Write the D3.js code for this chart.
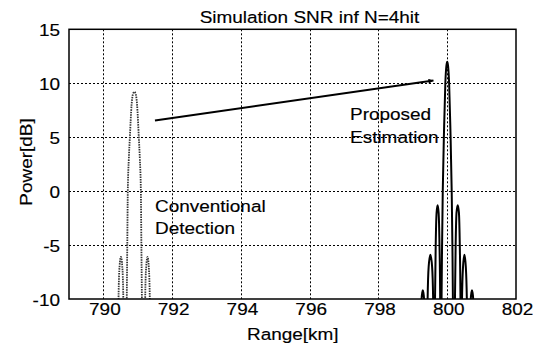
<!DOCTYPE html>
<html>
<head>
<meta charset="utf-8">
<script src="https://cdn.jsdelivr.net/npm/d3@7"></script>
<style>
  body { margin: 0; background: #fff; }
  svg text { font-family: Arial, "Liberation Sans", Helvetica, sans-serif; font-size: 16.5px; fill: #000; stroke: #000; stroke-width: 0.15px; }
</style>
</head>
<body>
<svg id="chart" width="539" height="346"></svg>
<script>
const xTicks = [790, 792, 794, 796, 798, 800, 802];
const yTicks = [-10, -5, 0, 5, 10, 15];

// Conventional Detection (dotted grey)
const convRange = [790.40, 790.44, 790.47, 790.51, 790.55, 790.58, 790.62,
  790.68, 790.695, 790.71, 790.74, 790.77, 790.82, 790.86, 790.90, 790.94, 790.98, 791.03, 791.06, 791.09, 791.105, 791.12, 791.16,
  791.215, 791.245, 791.285, 791.32, 791.35, 791.39];
const convPower = [-30, -10, -7, -6.1, -7, -10, -30,
  -10, -5, 0, 3, 5, 8, 9, 9.2, 9, 8, 5, 3, 0, -5, -10, -30,
  -10, -7, -6.1, -7, -10, -30];

// Proposed Estimation (solid black)
const propRange = [799.16, 799.255, 799.275, 799.29, 799.305, 799.325, 799.40,
  799.43, 799.46, 799.51, 799.56, 799.59, 799.61,
  799.645, 799.665, 799.69, 799.72, 799.75, 799.775, 799.795, 799.81,
  799.835, 799.85, 799.87, 799.91, 799.945, 799.975, 800.0, 800.025, 800.055, 800.09, 800.13, 800.15, 800.165, 800.19,
  800.225, 800.245, 800.27, 800.305, 800.34, 800.365, 800.385, 800.41,
  800.43, 800.46, 800.50, 800.54, 800.57, 800.61,
  800.685, 800.705, 800.72, 800.735, 800.755, 800.84];
const propPower = [-30, -10, -9.4, -9.2, -9.4, -10, -30,
  -10, -7, -5.9, -7, -10, -30,
  -10, -5, -2, -1.3, -2, -5, -10, -30,
  -10, -5, 0, 6, 10, 11.6, 12, 11.6, 10, 6, 0, -5, -10, -30,
  -10, -5, -2, -1.3, -2, -5, -10, -30,
  -10, -7, -5.9, -7, -10, -30,
  -10, -9.4, -9.2, -9.4, -10, -30];

const arrowRange = [791.5, 799.6];
const arrowPower = [6.55, 10.25];

const svg = d3.select('#chart');
const width = +svg.attr('width');
const height = +svg.attr('height');
const margin = { top: 29.3, right: 23, bottom: 47, left: 69 };
const x = d3.scaleLinear().domain([789, 802]).range([margin.left, width - margin.right]);
const y = d3.scaleLinear().domain([-10, 15]).range([height - margin.bottom, margin.top]);
const sx = 1.15; // the source font runs wider than Arial

function label(g, txt, tx, ty, anchor, rot) {
  return g.append('text')
    .attr('text-anchor', anchor || 'start')
    .attr('transform', 'translate(' + tx + ',' + ty + ')' + (rot ? ' rotate(' + rot + ')' : '') + ' scale(' + sx + ',1)')
    .text(txt);
}

svg.append('rect').attr('width', width).attr('height', height).attr('fill', '#fff');

svg.append('defs').append('clipPath').attr('id', 'plot')
  .append('rect')
  .attr('x', x(789)).attr('y', y(15))
  .attr('width', x(802) - x(789)).attr('height', y(-10) - y(15));

// grid
const grid = svg.append('g').attr('stroke', '#000').attr('stroke-width', 1).attr('stroke-dasharray', '2,2');
grid.selectAll('.vg').data(xTicks.filter(d => d < 802)).enter().append('line')
  .attr('x1', d => Math.round(x(d)) + 0.5).attr('x2', d => Math.round(x(d)) + 0.5)
  .attr('y1', y(15)).attr('y2', y(-10));
grid.selectAll('.hg').data(yTicks.filter(d => d > -10 && d < 15)).enter().append('line')
  .attr('y1', d => Math.round(y(d)) + 0.5).attr('y2', d => Math.round(y(d)) + 0.5)
  .attr('x1', x(789)).attr('x2', x(802));

const line = d3.line().x(d => x(d[0])).y(d => y(d[1])).curve(d3.curveMonotoneX);
const plot = svg.append('g').attr('clip-path', 'url(#plot)');

plot.append('path')
  .datum(d3.zip(convRange, convPower))
  .attr('d', line)
  .attr('fill', 'none')
  .attr('stroke', '#333')
  .attr('stroke-width', 1.8)
  .attr('stroke-dasharray', '1.5,1');

plot.append('path')
  .datum(d3.zip(propRange, propPower))
  .attr('d', line)
  .attr('fill', 'none')
  .attr('stroke', '#000')
  .attr('stroke-width', 2);

// arrow
svg.select('defs').append('marker')
  .attr('id', 'head')
  .attr('viewBox', '0 0 10 10')
  .attr('refX', 10).attr('refY', 5)
  .attr('markerWidth', 7).attr('markerHeight', 5)
  .attr('markerUnits', 'userSpaceOnUse')
  .attr('orient', 'auto')
  .append('path').attr('d', 'M0,0L10,5L0,10Z').attr('fill', '#000');

svg.append('line')
  .attr('x1', x(arrowRange[0])).attr('y1', y(arrowPower[0]))
  .attr('x2', x(arrowRange[1])).attr('y2', y(arrowPower[1]))
  .attr('stroke', '#000').attr('stroke-width', 2)
  .attr('marker-end', 'url(#head)');

// frame
svg.append('rect')
  .attr('x', x(789)).attr('y', y(15))
  .attr('width', x(802) - x(789)).attr('height', y(-10) - y(15))
  .attr('fill', 'none').attr('stroke', '#000').attr('stroke-width', 1.5);

// tick labels
const tl = svg.append('g');
xTicks.forEach(d => label(tl, d, x(d) + 1.5, 315, 'middle'));
yTicks.forEach(d => label(tl, d, 60, y(d) + 7, 'end'));

// titles
label(svg, 'Simulation SNR inf N=4hit', 309.5, 23.3, 'middle');
label(svg, 'Range[km]', 292.8, 340, 'middle');
label(svg, 'Power[dB]', 31.5, 162, 'middle', -90);

// annotations
label(svg, 'Conventional', 155, 211.7);
label(svg, 'Detection', 155, 233.5);
label(svg, 'Proposed', 350, 120);
label(svg, 'Estimation', 350, 142.5);
</script>
</body>
</html>
